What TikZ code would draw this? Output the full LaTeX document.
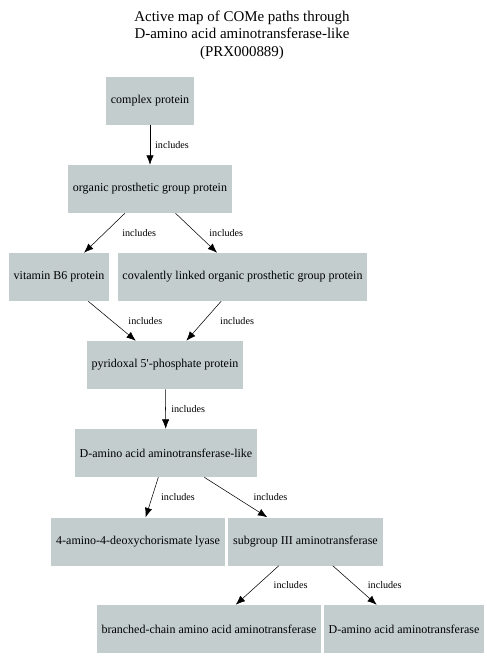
\documentclass[tikz,border=0pt]{standalone}
\usepackage{fontspec}
\setmainfont{Liberation Serif}
\usetikzlibrary{arrows.meta}
\definecolor{boxgrey}{RGB}{195,205,205}

\begin{document}
\begin{tikzpicture}[x=0.75pt,y=-0.75pt,
        box/.style={fill=boxgrey,minimum height=36pt,inner xsep=3.6pt,font=\fontsize{9}{11}\selectfont},
        incl/.style={-{Latex[length=7pt,width=5.5pt]},line width=0.4pt},
        lbl/.style={midway,font=\fontsize{7.6}{9}\selectfont}]
        \useasboundingbox (0,0) rectangle (486,670);
        \node[align=center,font=\fontsize{11.2}{13.1}\selectfont] (title) at (242,35)
            {Active map of COMe paths through\\ D-amino acid aminotransferase-like\\ (PRX000889)};
        \node[box] (cp) at (150,101) {complex protein};
        \node[box] (opg) at (150,189) {organic prosthetic group protein};
        \node[box] (vb6) at (59,277) {vitamin B6 protein};
        \node[box] (clo) at (242.5,277) {covalently linked organic prosthetic group protein};
        \node[box] (plp) at (165,365) {pyridoxal 5\textquotesingle-phosphate protein};
        \node[box] (daal) at (166,453) {D-amino acid aminotransferase-like};
        \node[box] (adcl) at (138,541.5) {4-amino-4-deoxychorismate lyase};
        \node[box] (sg3) at (305.5,541.5) {subgroup III aminotransferase};
        \node[box] (bcat) at (209,629) {branched-chain amino acid aminotransferase};
        \node[box] (daat) at (404,629) {D-amino acid aminotransferase};
        % includes edges
        \draw[incl] (cp) -- (opg) node[lbl,xshift=16.5pt]{includes};
        \draw[incl] (opg) -- (vb6) node[lbl,xshift=26pt]{includes};
        \draw[incl] (opg) -- (clo) node[lbl,xshift=22.5pt]{includes};
        \draw[incl] (vb6) -- (plp) node[lbl,xshift=25pt]{includes};
        \draw[incl] (clo) -- (plp) node[lbl,xshift=25pt]{includes};
        \draw[incl] (plp) -- (daal) node[lbl,xshift=17pt]{includes};
        \draw[incl] (daal) -- (adcl) node[lbl,xshift=19.5pt]{includes};
        \draw[incl] (daal) -- (sg3) node[lbl,xshift=26pt]{includes};
        \draw[incl] (sg3) -- (bcat) node[lbl,xshift=25pt]{includes};
        \draw[incl] (sg3) -- (daat) node[lbl,xshift=22.5pt]{includes};
      \end{tikzpicture}
\end{document}
